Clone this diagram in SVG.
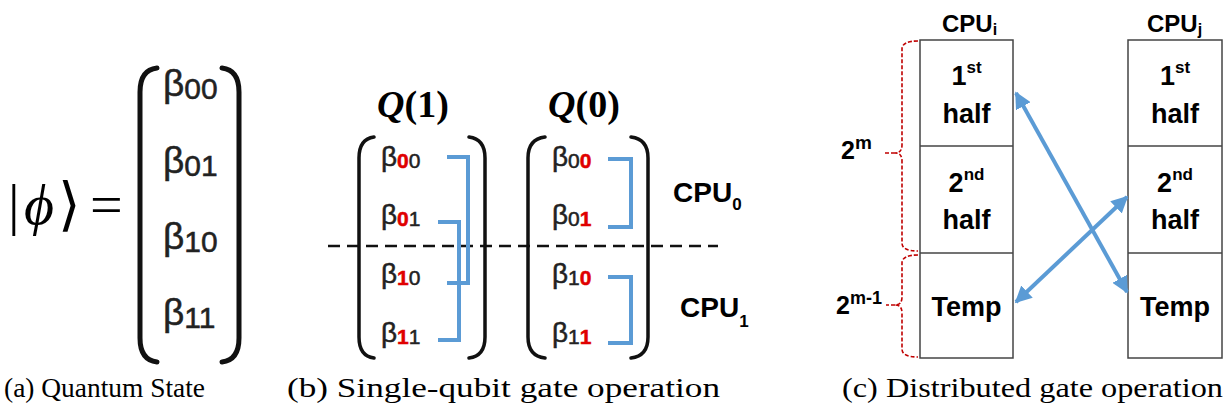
<svg xmlns="http://www.w3.org/2000/svg" width="1232" height="417" viewBox="0 0 1232 417">
  <defs>
    <style>
      .bk { fill: none; stroke: #111; stroke-linecap: round; }
      .br { fill: none; stroke: #5B9BD5; stroke-width: 4; stroke-linejoin: miter; }
      .beta { font-family: "Liberation Sans", Arial, sans-serif; fill: #222; stroke: #222; stroke-width: 0.5; }
      .red { fill: #E00000; stroke: #E00000; font-weight: bold; }
      .lbl { font-family: "Liberation Sans", Arial, sans-serif; font-weight: bold; fill: #000; }
      .math { font-family: "Liberation Serif", "DejaVu Serif", serif; fill: #000; }
      .cap { font-family: "Liberation Serif", "DejaVu Serif", serif; font-size: 28px; fill: #000; }
      .box { fill: #fff; stroke: #444; stroke-width: 1.5; }
      .brace { fill: none; stroke: #C00000; stroke-width: 1.6; stroke-dasharray: 4 2; }
      .arrow { stroke: #5B9BD5; stroke-width: 4; fill: none; }
    </style>
    <marker id="ah" viewBox="0 0 10 10" refX="9" refY="5" markerWidth="4.2" markerHeight="4.2" orient="auto-start-reverse" markerUnits="strokeWidth">
      <path d="M0,0 L10,5 L0,10 z" fill="#5B9BD5"/>
    </marker>
  </defs>

  <!-- (a) state vector -->
  <g id="state-vector">
    <text class="math" font-size="58" y="224"><tspan x="8">|</tspan><tspan x="24" font-style="italic">ϕ</tspan><tspan x="58">⟩</tspan><tspan x="90">=</tspan></text>
    <path class="bk" stroke-width="5" d="M157 68 Q140 70 140 92 V338 Q140 360 157 362"/>
    <path class="bk" stroke-width="5" d="M222 68 Q239 70 239 92 V338 Q239 360 222 362"/>
    <text class="beta" font-size="37" x="163" y="96">β<tspan font-size="30" dy="3">00</tspan></text>
    <text class="beta" font-size="37" x="163" y="173">β<tspan font-size="30" dy="3">01</tspan></text>
    <text class="beta" font-size="37" x="163" y="249">β<tspan font-size="30" dy="3">10</tspan></text>
    <text class="beta" font-size="37" x="163" y="325">β<tspan font-size="30" dy="3">11</tspan></text>
  </g>

  <!-- (b) single-qubit gate: pairs for Q(1) and Q(0) -->
  <g id="q1-vector">
    <text class="math" font-size="38" font-weight="bold" x="413" y="117" text-anchor="middle"><tspan font-style="italic">Q</tspan>(1)</text>
    <path class="bk" stroke-width="3.5" d="M374 137 Q359 139 359 158 V337 Q359 356 374 358"/>
    <path class="bk" stroke-width="3.5" d="M469 137 Q485 139 485 158 V337 Q485 356 469 358"/>
    <text class="beta" font-size="28" x="381" y="166">β<tspan font-size="21" dy="2" class="red">0</tspan><tspan font-size="21">0</tspan></text>
    <text class="beta" font-size="28" x="381" y="224">β<tspan font-size="21" dy="2" class="red">0</tspan><tspan font-size="21">1</tspan></text>
    <text class="beta" font-size="28" x="381" y="283">β<tspan font-size="21" dy="2" class="red">1</tspan><tspan font-size="21">0</tspan></text>
    <text class="beta" font-size="28" x="381" y="342">β<tspan font-size="21" dy="2" class="red">1</tspan><tspan font-size="21">1</tspan></text>
  </g>
  <g id="q0-vector">
    <text class="math" font-size="38" font-weight="bold" x="584" y="117" text-anchor="middle"><tspan font-style="italic">Q</tspan>(0)</text>
    <path class="bk" stroke-width="3.5" d="M545 137 Q528 139 528 158 V337 Q528 356 545 358"/>
    <path class="bk" stroke-width="3.5" d="M631 137 Q648 139 648 158 V337 Q648 356 631 358"/>
    <text class="beta" font-size="28" x="552" y="166">β<tspan font-size="21" dy="2">0</tspan><tspan font-size="21" class="red">0</tspan></text>
    <text class="beta" font-size="28" x="552" y="224">β<tspan font-size="21" dy="2">0</tspan><tspan font-size="21" class="red">1</tspan></text>
    <text class="beta" font-size="28" x="552" y="283">β<tspan font-size="21" dy="2">1</tspan><tspan font-size="21" class="red">0</tspan></text>
    <text class="beta" font-size="28" x="552" y="342">β<tspan font-size="21" dy="2">1</tspan><tspan font-size="21" class="red">1</tspan></text>
  </g>
  <g id="cpu0-label">
    <text class="lbl" font-size="28" x="673" y="202">CPU<tspan font-size="17" dy="8">0</tspan></text>
  </g>
  <g id="cpu1-label">
    <text class="lbl" font-size="28" x="680" y="317">CPU<tspan font-size="17" dy="10">1</tspan></text>
  </g>

  <!-- (c) memory layout of two CPUs -->
  <g id="cpu-i">
    <text class="lbl" font-size="24" x="942" y="32">CPU<tspan font-size="16" dy="3">i</tspan></text>
    <rect class="box" x="920" y="40" width="93" height="318"/>
    <line class="box" x1="920" y1="146" x2="1013" y2="146"/>
    <line class="box" x1="920" y1="253" x2="1013" y2="253"/>
    <text class="lbl" font-size="27" x="966.5" y="85" text-anchor="middle">1<tspan font-size="17" dy="-12">st</tspan></text>
    <text class="lbl" font-size="27" x="966.5" y="123" text-anchor="middle">half</text>
    <text class="lbl" font-size="27" x="966.5" y="192" text-anchor="middle">2<tspan font-size="17" dy="-12">nd</tspan></text>
    <text class="lbl" font-size="27" x="966.5" y="229" text-anchor="middle">half</text>
    <text class="lbl" font-size="27" x="966.5" y="316" text-anchor="middle">Temp</text>
  </g>
  <g id="cpu-j">
    <text class="lbl" font-size="24" x="1147" y="32">CPU<tspan font-size="16" dy="3">j</tspan></text>
    <rect class="box" x="1128" y="40" width="94" height="318"/>
    <line class="box" x1="1128" y1="146" x2="1222" y2="146"/>
    <line class="box" x1="1128" y1="253" x2="1222" y2="253"/>
    <text class="lbl" font-size="27" x="1175" y="85" text-anchor="middle">1<tspan font-size="17" dy="-12">st</tspan></text>
    <text class="lbl" font-size="27" x="1175" y="123" text-anchor="middle">half</text>
    <text class="lbl" font-size="27" x="1175" y="192" text-anchor="middle">2<tspan font-size="17" dy="-12">nd</tspan></text>
    <text class="lbl" font-size="27" x="1175" y="229" text-anchor="middle">half</text>
    <text class="lbl" font-size="27" x="1175" y="316" text-anchor="middle">Temp</text>
  </g>
  <g id="size-labels">
    <path class="brace" d="M918 41 Q902 41 902 49 V145 Q902 153 895 153 Q902 153 902 161 V243 Q902 251 918 251 M895 153 H884"/>
    <path class="brace" d="M918 255 Q902 255 902 263 V297 Q902 305 895 305 Q902 305 902 313 V349 Q902 357 918 357 M895 305 H886"/>
    <text class="lbl" font-size="25" x="841" y="159">2<tspan font-size="19" dy="-10">m</tspan></text>
    <text class="lbl" font-size="25" x="836" y="314">2<tspan font-size="18" dy="-10">m-1</tspan></text>
  </g>

  <!-- connectors -->
  <g id="connectors">
    <line x1="328" y1="246" x2="718" y2="246" stroke="#111" stroke-width="2.5" stroke-dasharray="12 7"/>
    <path class="br" d="M447 157 H468 V283 H447"/>
    <path class="br" d="M438 222 H459 V340 H438"/>
    <path class="br" d="M608 159 H631 V227 H608"/>
    <path class="br" d="M608 277 H631 V343 H608"/>
    <line class="arrow" x1="1016" y1="93" x2="1127" y2="292" marker-start="url(#ah)" marker-end="url(#ah)"/>
    <line class="arrow" x1="1127" y1="197" x2="1016" y2="302" marker-start="url(#ah)" marker-end="url(#ah)"/>
  </g>

  <!-- captions -->
  <g id="captions">
    <text class="cap" x="4" y="397" textLength="201" lengthAdjust="spacingAndGlyphs">(a) Quantum State</text>
    <text class="cap" x="287" y="397" textLength="433" lengthAdjust="spacingAndGlyphs">(b) Single-qubit gate operation</text>
    <text class="cap" x="842" y="397" textLength="381" lengthAdjust="spacingAndGlyphs">(c) Distributed gate operation</text>
  </g>
</svg>
